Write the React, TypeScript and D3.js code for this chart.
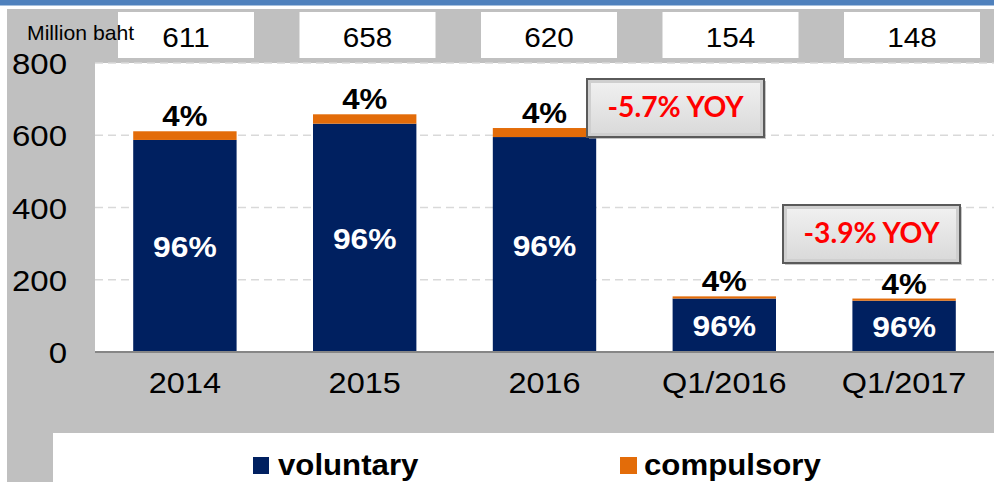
import React from "react";
import * as d3 from "d3";

const categories = ["2014", "2015", "2016", "Q1/2016", "Q1/2017"];
const totals = [611, 658, 620, 154, 148];
const voluntary = [587, 632, 595, 148, 142];
const compulsory = [24, 26, 25, 6, 6];
const voluntaryPct = ["96%", "96%", "96%", "96%", "96%"];
const compulsoryPct = ["4%", "4%", "4%", "4%", "4%"];
const yTicks = [0, 200, 400, 600, 800];
const callouts = [
  { text: "-5.7% YOY", x: 587, y: 79 },
  { text: "-3.9% YOY", x: 783, y: 205 },
];

const W = 994;
const H = 482;
const NAVY = "#002060";
const ORANGE = "#E36C09";
const GRAY = "#C0C0C0";
const ARIAL = "'Liberation Sans', Arial, sans-serif";

function T({
  x,
  y,
  sx = 1,
  anchor = "middle",
  size,
  bold = false,
  fill = "#000",
  children,
}: {
  x: number;
  y: number;
  sx?: number;
  anchor?: string;
  size: number;
  bold?: boolean;
  fill?: string;
  children: React.ReactNode;
}) {
  return (
    <g transform={`translate(${x},${y}) scale(${sx},1)`}>
      <text
        x={0}
        y={0}
        textAnchor={anchor as any}
        fontFamily={ARIAL}
        fontWeight={bold ? "bold" : "normal"}
        fontSize={size}
        fill={fill}
      >
        {children}
      </text>
    </g>
  );
}

export default function App() {
  const x = d3
    .scaleBand<string>()
    .domain(categories)
    .range([95, 994])
    .paddingInner(0.425)
    .paddingOuter(0.2125);
  const y = d3.scaleLinear().domain([0, 800]).range([352, 63]);
  const header = d3.scalePoint<string>().domain(categories).range([186, 912]);

  const stack = d3
    .stack<number>()
    .keys(["voluntary", "compulsory"])
    .value((i, key) => (key === "voluntary" ? voluntary[i] : compulsory[i]));
  const series = stack(categories.map((_, i) => i));
  const colors = [NAVY, ORANGE];

  return (
    <svg
      width={W}
      height={H}
      style={{ position: "absolute", left: 0, top: 0 }}
      xmlns="http://www.w3.org/2000/svg"
    >
      <defs>
        <linearGradient id="bev" x1="0" y1="0" x2="0" y2="1">
          <stop offset="0" stopColor="#F0F0F0" />
          <stop offset="1" stopColor="#DADADA" />
        </linearGradient>
      </defs>
      <rect x={0} y={0} width={W} height={H} fill="#fff" />
      <rect x={0} y={0} width={W} height={5.5} fill="#4F81BD" />
      <rect x={7} y={9} width={W - 7} height={424} fill={GRAY} />
      <rect x={7} y={433} width={46} height={49} fill={GRAY} />
      <rect x={53} y={433} width={W - 53} height={49} fill="#fff" />

      {/* header value boxes */}
      {categories.map((c, i) => (
        <g key={"h" + c}>
          <rect x={(header(c) as number) - 68} y={12} width={136} height={46} fill="#fff" />
          <T x={header(c) as number} y={47} sx={1.1} size={27}>
            {totals[i]}
          </T>
        </g>
      ))}
      <T x={27} y={40} sx={1.06} anchor="start" size={20}>
        Million baht
      </T>

      {/* plot area */}
      <rect x={95} y={63} width={W - 95} height={352 - 63} fill="#fff" />
      {yTicks
        .filter((t) => t > 0)
        .map((t) => (
          <line
            key={"g" + t}
            x1={95}
            x2={W}
            y1={y(t)}
            y2={y(t)}
            stroke="#D9D9D9"
            strokeWidth={1.5}
            strokeDasharray="8,5"
          />
        ))}
      {yTicks.map((t) => (
        <T key={"yt" + t} x={67} y={y(t) + 11} sx={1.1} anchor="end" size={30}>
          {t}
        </T>
      ))}

      {series.map((s, si) =>
        s.map((d, i) => (
          <rect
            key={"b" + si + "-" + i}
            x={x(categories[i])}
            width={x.bandwidth()}
            y={y(d[1])}
            height={y(d[0]) - y(d[1])}
            fill={colors[si]}
          />
        ))
      )}
      <line x1={95} x2={W} y1={352} y2={352} stroke="#868686" strokeWidth={2} />

      {categories.map((c, i) => {
        const cx = (x(c) as number) + x.bandwidth() / 2;
        return (
          <g key={"l" + c}>
            <T x={cx} y={y(totals[i]) - 5} sx={1.04} size={30} bold>
              {compulsoryPct[i]}
            </T>
            <T
              x={cx}
              y={(y(0) + y(voluntary[i])) / 2 + 11}
              sx={1.06}
              size={30}
              bold
              fill="#fff"
            >
              {voluntaryPct[i]}
            </T>
            <T x={cx} y={393} sx={1.12} size={29}>
              {c}
            </T>
          </g>
        );
      })}

      {/* callouts */}
      {callouts.map((c) => (
        <g key={c.text}>
          <rect x={c.x + 2} y={c.y + 2} width={177} height={58} fill="#A0A0A0" opacity={0.6} />
          <rect x={c.x} y={c.y} width={177} height={58} fill="#CFCFCF" stroke="#5A5A5A" strokeWidth={2} />
          <rect x={c.x + 4} y={c.y + 4} width={169} height={50} fill="url(#bev)" />
          <text
            x={c.x + 88.5}
            y={c.y + 38}
            textAnchor="middle"
            fontFamily="Lato, 'Open Sans', sans-serif"
            fontWeight="bold"
            fontSize={28}
            textLength={136}
            lengthAdjust="spacingAndGlyphs"
            fill="#FF0000"
          >
            {c.text}
          </text>
        </g>
      ))}

      {/* legend */}
      <rect x={253} y={457} width={16} height={17} fill={NAVY} />
      <T x={278} y={475} sx={1.04} anchor="start" size={30} bold>
        voluntary
      </T>
      <rect x={620} y={457} width={17} height={17} fill={ORANGE} />
      <T x={644} y={475} sx={1.04} anchor="start" size={30} bold>
        compulsory
      </T>
    </svg>
  );
}
